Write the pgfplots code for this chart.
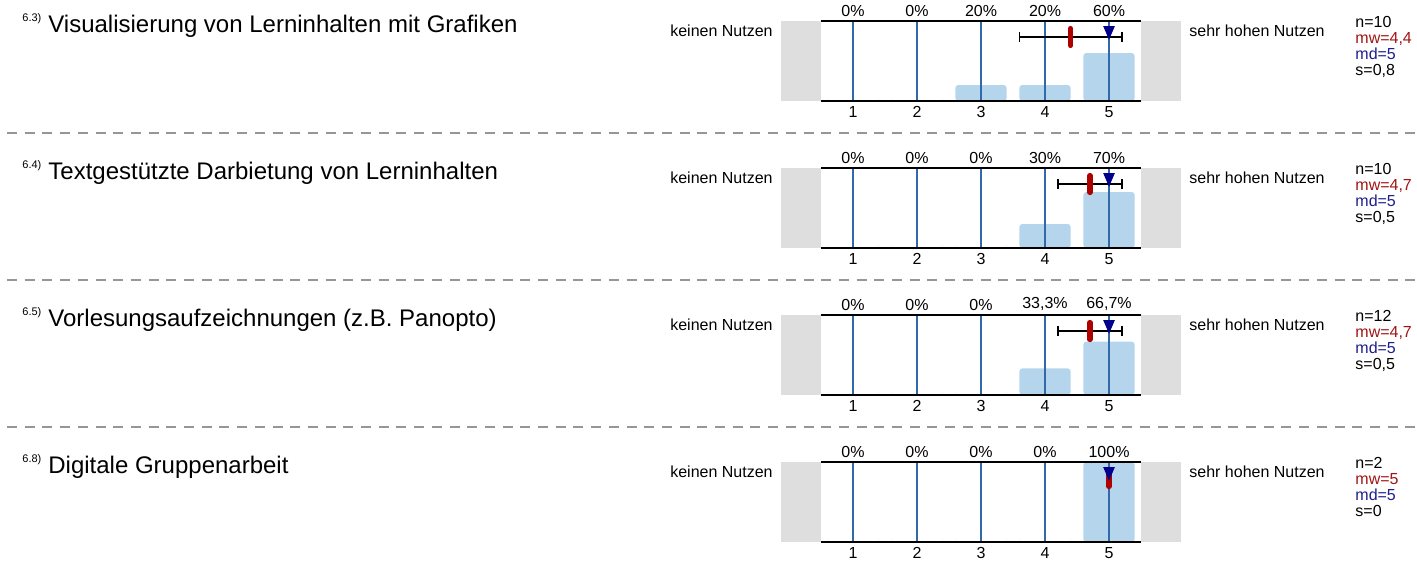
\documentclass[border=0pt]{standalone}
\usepackage{pgfplots}
\pgfplotsset{compat=1.18}
\usepackage{fontspec}
\setmainfont{Liberation Sans}
\definecolor{barblue}{RGB}{180,213,235}
\definecolor{greybox}{RGB}{222,222,222}
\definecolor{gridblue}{RGB}{50,105,170}
\definecolor{meanred}{RGB}{175,0,0}
\definecolor{medblue}{RGB}{0,0,140}
\definecolor{mwtext}{RGB}{160,20,20}
\definecolor{mdtext}{RGB}{30,30,140}
\definecolor{sepgrey}{RGB}{150,150,150}
\pgfplotsset{
  likert/.style={
    scale only axis, width=200pt, height=40pt,
    xmin=-0.125, xmax=6.125, ymin=0, ymax=100,
    anchor=south west, clip=false,
    axis line style={draw=none},
    xtick={1,2,3,4,5}, ytick=\empty,
    major tick length=0pt,
    xtick style={draw=none},
    /pgf/number format/assume math mode=true,
    xticklabel style={font=\fontsize{8}{9}\selectfont, inner sep=2.5pt, text=black},
  },
  pct/.style={draw=none, nodes near coords, point meta=explicit symbolic,
    nodes near coords style={font=\fontsize{8}{9}\selectfont, anchor=south, inner sep=2pt, text=black}},
  bars/.style={ybar, bar width=25.6pt, fill=barblue, draw=none, rounded corners=1.5pt},
  sdbar/.style={black, line width=0.85pt, mark=|, mark size=2.6pt, mark options={line width=0.85pt}},
  meanmark/.style={only marks, mark=|, mark size=4.2pt, mark options={draw=meanred, line width=2.7pt, line cap=round}},
  medmark/.style={only marks, mark=triangle*, mark size=3pt, mark options={fill=medblue, draw=medblue, rotate=180, yscale=1.35}},
}
\newcommand{\frameparts}{%
  \fill[greybox] (axis cs:-0.125,0) rectangle (axis cs:0.5,100);
  \fill[greybox] (axis cs:5.5,0) rectangle (axis cs:6.125,100);
}
\newcommand{\gridparts}{%
  \pgfplotsinvokeforeach{1,...,5}{\draw[gridblue, line width=0.55pt] (axis cs:##1,0) -- (axis cs:##1,100);}
  \draw[black, line width=1pt] (axis cs:0.5,0) -- (axis cs:5.5,0);
  \draw[black, line width=1pt] (axis cs:0.5,100) -- (axis cs:5.5,100);
}
\newcommand{\sidelabels}[1]{%
  \node[anchor=base east, font=\fontsize{8}{9}\selectfont, inner sep=0pt] at (386.5pt,{-18.35pt-#1}) {keinen Nutzen};
  \node[anchor=base west, font=\fontsize{8}{9}\selectfont, inner sep=0pt] at (594.5pt,{-18.35pt-#1}) {sehr hohen Nutzen};
}
\newcommand{\stats}[5]{%
  \node[anchor=base west, font=\fontsize{8}{9}\selectfont, inner sep=0pt] at (677.5pt,{-13.5pt-#1}) {#2};
  \node[anchor=base west, font=\fontsize{8}{9}\selectfont, inner sep=0pt, text=mwtext] at (677.5pt,{-21.5pt-#1}) {#3};
  \node[anchor=base west, font=\fontsize{8}{9}\selectfont, inner sep=0pt, text=mdtext] at (677.5pt,{-29.5pt-#1}) {#4};
  \node[anchor=base west, font=\fontsize{8}{9}\selectfont, inner sep=0pt] at (677.5pt,{-37.5pt-#1}) {#5};
}
\newcommand{\qtitle}[3]{%
  \node[anchor=base west, font=\fontsize{5.5}{6}\selectfont, inner sep=0pt] at (11pt,{-10.5pt-#1}) {#2};
  \node[anchor=base west, font=\fontsize{12}{14}\selectfont, inner sep=0pt] at (24pt,{-16pt-#1}) {#3};
}
\begin{document}
\begin{tikzpicture}
\useasboundingbox (0,0) rectangle (708.5pt,-284pt);
% separators
\foreach \yy in {66.5,140,213.5}{
  \draw[sepgrey, line width=0.75pt, dash pattern=on 5pt off 3.85pt, dash phase=-3.5pt] (0,-\yy pt) -- (708.5pt,-\yy pt);
}
% ---------- 6.3
\qtitle{0pt}{6.3)}{Visualisierung von Lerninhalten mit Grafiken}
\sidelabels{0pt}
\stats{0pt}{n=10}{mw=4,4}{md=5}{s=0,8}
\begin{axis}[likert, at={(390.5pt,-50.5pt)}]
  \frameparts
  \addplot[bars] coordinates {(1,0) (2,0) (3,20) (4,20) (5,60)};
  \gridparts
  \addplot[pct] coordinates {(1,100) [0\%] (2,100) [0\%] (3,100) [20\%] (4,100) [20\%] (5,100) [60\%]};
  \addplot[sdbar] coordinates {(3.6,80) (5.2,80)};
  \addplot[meanmark] coordinates {(4.4,80)};
  \addplot[medmark] coordinates {(5,88)};
\end{axis}
% ---------- 6.4
\qtitle{73.5pt}{6.4)}{Textgestützte Darbietung von Lerninhalten}
\sidelabels{73.5pt}
\stats{73.5pt}{n=10}{mw=4,7}{md=5}{s=0,5}
\begin{axis}[likert, at={(390.5pt,-124pt)}]
  \frameparts
  \addplot[bars] coordinates {(1,0) (2,0) (3,0) (4,30) (5,70)};
  \gridparts
  \addplot[pct] coordinates {(1,100) [0\%] (2,100) [0\%] (3,100) [0\%] (4,100) [30\%] (5,100) [70\%]};
  \addplot[sdbar] coordinates {(4.2,80) (5.2,80)};
  \addplot[meanmark] coordinates {(4.7,80)};
  \addplot[medmark] coordinates {(5,88)};
\end{axis}
% ---------- 6.5
\qtitle{147pt}{6.5)}{Vorlesungsaufzeichnungen (z.B. Panopto)}
\sidelabels{147pt}
\stats{147pt}{n=12}{mw=4,7}{md=5}{s=0,5}
\begin{axis}[likert, at={(390.5pt,-197.5pt)}]
  \frameparts
  \addplot[bars] coordinates {(1,0) (2,0) (3,0) (4,33.3) (5,66.7)};
  \gridparts
  \addplot[pct] coordinates {(1,100) [0\%] (2,100) [0\%] (3,100) [0\%] (4,100) [{33,3\%}] (5,100) [{66,7\%}]};
  \addplot[sdbar] coordinates {(4.2,80) (5.2,80)};
  \addplot[meanmark] coordinates {(4.7,80)};
  \addplot[medmark] coordinates {(5,88)};
\end{axis}
% ---------- 6.8
\qtitle{220.5pt}{6.8)}{Digitale Gruppenarbeit}
\sidelabels{220.5pt}
\stats{220.5pt}{n=2}{mw=5}{md=5}{s=0}
\begin{axis}[likert, at={(390.5pt,-271pt)}]
  \frameparts
  \addplot[bars] coordinates {(1,0) (2,0) (3,0) (4,0) (5,100)};
  \gridparts
  \addplot[pct] coordinates {(1,100) [0\%] (2,100) [0\%] (3,100) [0\%] (4,100) [0\%] (5,100) [100\%]};
  \addplot[meanmark] coordinates {(5,80)};
  \addplot[medmark] coordinates {(5,88)};
\end{axis}
\end{tikzpicture}
\end{document}
